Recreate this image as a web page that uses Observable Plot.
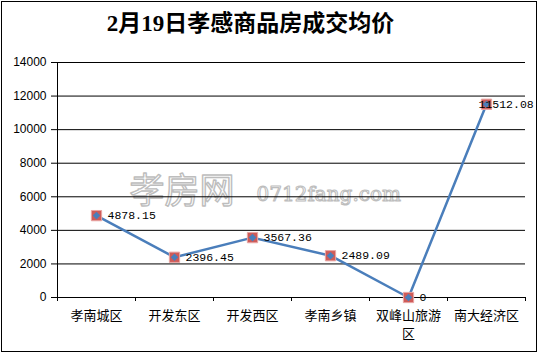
<!DOCTYPE html>
<html>
<head>
<meta charset="utf-8">
<script src="https://cdn.jsdelivr.net/npm/d3@7"></script>
<script src="https://cdn.jsdelivr.net/npm/@observablehq/plot@0.6"></script>
<style>
  html, body { margin: 0; padding: 0; background: #fff; }
  svg { display: block; }
</style>
</head>
<body>
<div id="chart"></div>
<script>
const title = "2月19日孝感商品房成交均价";
const categories = ["孝南城区", "开发东区", "开发西区", "孝南乡镇", "双峰山旅游区", "南大经济区"];
const prices = [4878.15, 2396.45, 3567.36, 2489.09, 0, 11512.08];
const yTicks = [0, 2000, 4000, 6000, 8000, 10000, 12000, 14000];
const watermarkCJK = "孝房网";
const watermarkLatin = "0712fang.com";

const data = categories.map((name, i) => ({i, name, value: prices[i]}));
const n = data.length;
const boundaries = d3.range(n + 1).map(k => k - 0.5);
const wrap = d => d.length > 5 ? d.slice(0, 5) + "\n" + d.slice(5) : d;

const W = 539, H = 354;
const chart = Plot.plot({
  width: W,
  height: H,
  marginLeft: 57,
  marginRight: 14,
  marginTop: 62,
  marginBottom: 57,
  style: {background: "#fff", color: "#000", overflow: "visible"},
  x: {type: "linear", domain: [-0.5, n - 0.5], axis: null, label: null},
  y: {domain: [0, 14000], axis: null, label: null},
  marks: [
    // watermark
    Plot.text([watermarkCJK], {
      frameAnchor: "top-left", dx: 72, dy: 129, textAnchor: "start", lineAnchor: "middle",
      fontSize: 35, fontWeight: "normal", fontFamily: "Noto Sans CJK SC, sans-serif",
      fill: "#fff", stroke: "#bdbdbd", strokeWidth: 1.4, paintOrder: "normal", letterSpacing: 6
    }),
    Plot.text([watermarkLatin], {
      frameAnchor: "top-left", dx: 199, dy: 132, textAnchor: "start", lineAnchor: "middle",
      fontSize: 20, fontFamily: "DejaVu Serif, serif",
      fill: "#fff", stroke: "#bdbdbd", strokeWidth: 1.1, paintOrder: "normal"
    }),
    // grid
    Plot.gridY(yTicks, {stroke: "#000", strokeOpacity: 1, strokeWidth: 1}),
    Plot.ruleX([-0.5], {stroke: "#000"}),
    Plot.ruleY([0], {stroke: "#000"}),
    // y axis
    Plot.axisY(yTicks, {
      label: null, tickSize: 6, tickPadding: 5, tickFormat: d => String(d),
      fontSize: 12, fontFamily: "Liberation Sans, Arial, sans-serif", stroke: "#000"
    }),
    // x ticks at band boundaries
    Plot.axisX(boundaries, {label: null, tickSize: 4, tickFormat: () => "", stroke: "#000"}),
    // x labels
    Plot.axisX(d3.range(n), {
      label: null, tickSize: 0, tickPadding: 9, tickFormat: i => wrap(categories[i]),
      fontSize: 13, lineHeight: 1.42, fontFamily: "Noto Sans CJK SC, sans-serif", fill: "#000"
    }),
    // line
    Plot.line(data, {x: "i", y: "value", stroke: "#4a7ebb", strokeWidth: 2.5}),
    // markers
    Plot.dot(data, {x: "i", y: "value", symbol: "square", r: 5.8, fill: "#cf5b58", stroke: "#e8a5a3", strokeWidth: 1}),
    Plot.dot(data, {x: "i", y: "value", symbol: "diamond2", r: 3.4, fill: "#4a7ebb"}),
    // data labels
    Plot.text(data.filter(d => d.i < n - 1), {
      x: "i", y: "value", text: d => String(d.value), dx: 11, textAnchor: "start",
      fontSize: 11.5, fontFamily: "Liberation Mono, DejaVu Sans Mono, monospace", fill: "#000"
    }),
    Plot.text(data.filter(d => d.i === n - 1), {
      x: "i", y: "value", text: d => String(d.value), dx: -8, textAnchor: "start",
      fontSize: 11.5, fontFamily: "Liberation Mono, DejaVu Sans Mono, monospace", fill: "#000"
    }),
    // title
    Plot.text([title], {
      frameAnchor: "top-left", dx: 193, dy: -39, textAnchor: "middle", lineAnchor: "middle",
      fontSize: 23, fontWeight: "bold", fontFamily: "Liberation Serif, Noto Sans CJK SC, serif", fill: "#000"
    })
  ]
});

d3.select(chart).insert("rect", ":first-child")
  .attr("x", 1.5).attr("y", 1.5).attr("width", W - 4).attr("height", H - 4)
  .attr("fill", "none").attr("stroke", "#000").attr("stroke-width", 1);

document.getElementById("chart").appendChild(chart);
</script>
</body>
</html>
